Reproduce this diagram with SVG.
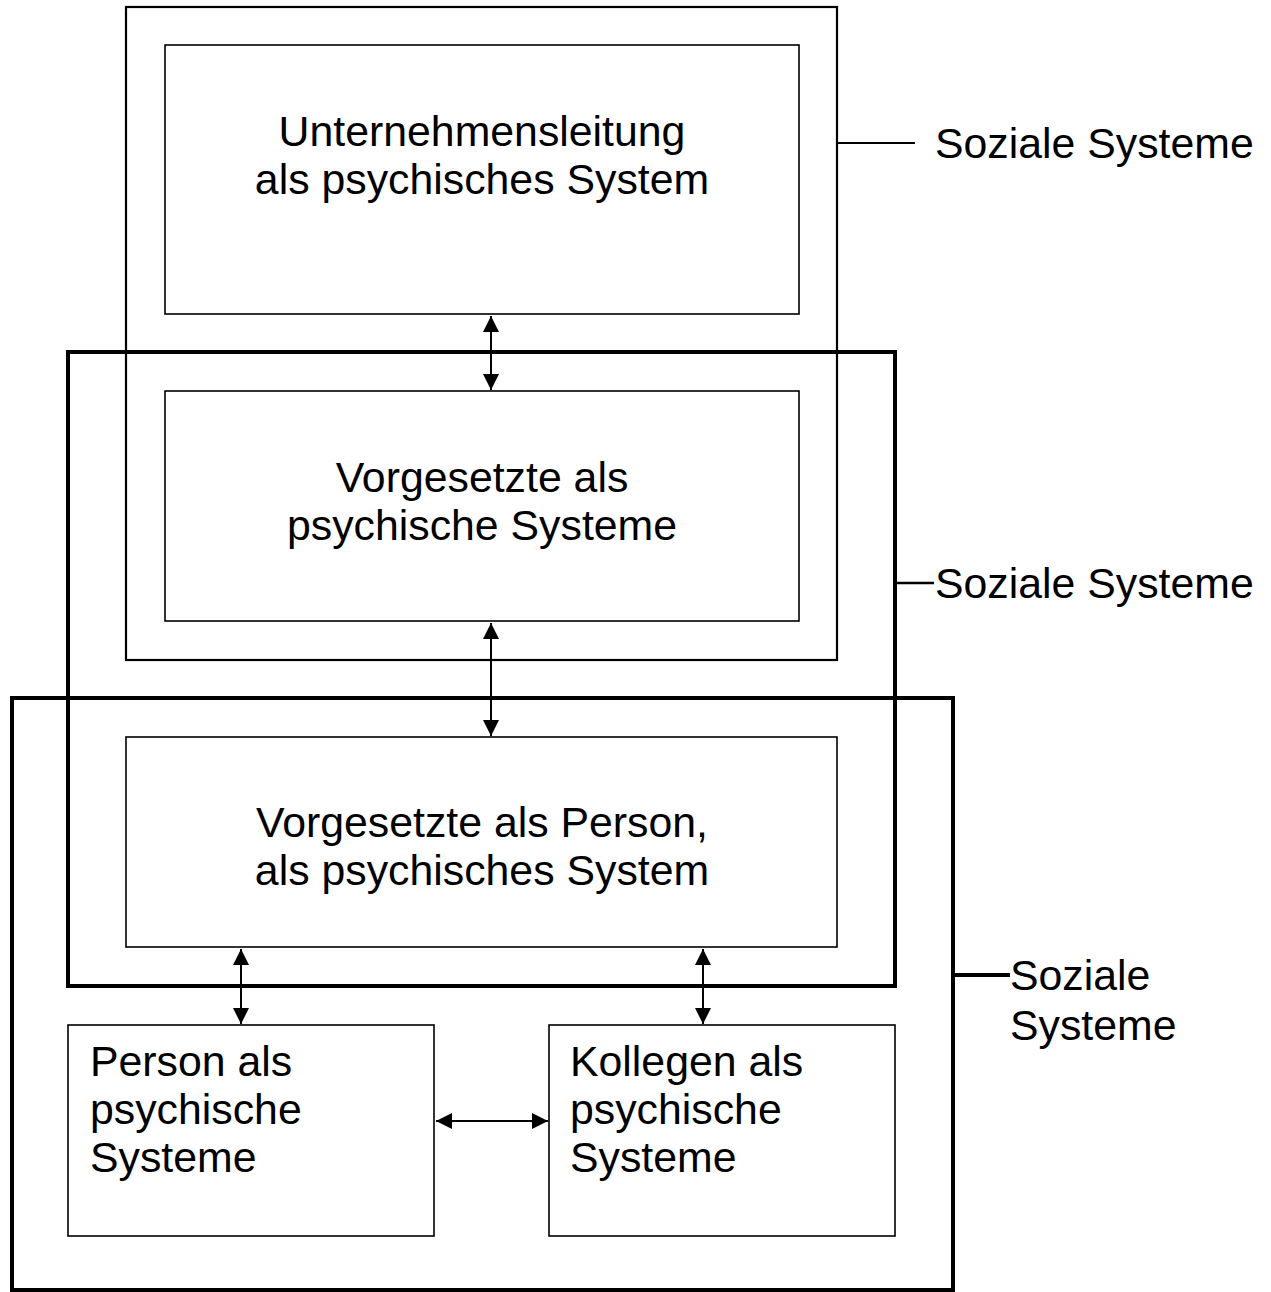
<svg xmlns="http://www.w3.org/2000/svg" width="1271" height="1292" viewBox="0 0 1271 1292">
<style>
text{font-family:"Liberation Sans",Arial,sans-serif;font-size:42.8px;fill:#000}
.c{text-anchor:middle}
rect{fill:none;stroke:#000}
.thin{stroke-width:1.6}
.mid{stroke-width:2.2}
.thick{stroke-width:4}
.conn line{stroke:#000;stroke-width:2}
</style>
<defs>
<marker id="a" viewBox="0 0 16 16" refX="16" refY="8" markerWidth="16" markerHeight="16" markerUnits="userSpaceOnUse" orient="auto-start-reverse">
<path d="M0,0 L16,8 L0,16 z" fill="#000"/>
</marker>
</defs>
<g id="sys1"><rect class="mid" x="126" y="7" width="711" height="653"/></g>
<g id="sys2"><rect class="thick" x="68" y="352" width="827" height="634"/></g>
<g id="sys3"><rect class="thick" x="12" y="698" width="941" height="592"/></g>
<g id="unternehmensleitung"><rect class="thin" x="165" y="45" width="634" height="269"/>
<text class="c" x="482" y="146">Unternehmensleitung</text>
<text class="c" x="482" y="194">als psychisches System</text></g>
<g id="vorgesetzte"><rect class="thin" x="165" y="391" width="634" height="230"/>
<text class="c" x="482" y="492">Vorgesetzte als</text>
<text class="c" x="482" y="540">psychische Systeme</text></g>
<g id="vorgesetzte-person"><rect class="thin" x="126" y="737" width="711" height="210"/>
<text class="c" x="482" y="837">Vorgesetzte als Person,</text>
<text class="c" x="482" y="885">als psychisches System</text></g>
<g id="person"><rect class="thin" x="68" y="1025" width="366" height="211"/>
<text x="90" y="1076">Person als</text>
<text x="90" y="1124">psychische</text>
<text x="90" y="1172">Systeme</text></g>
<g id="kollegen"><rect class="thin" x="549" y="1025" width="346" height="211"/>
<text x="570" y="1076">Kollegen als</text>
<text x="570" y="1124">psychische</text>
<text x="570" y="1172">Systeme</text></g>
<g id="label1"><line x1="838" y1="143" x2="915" y2="143" stroke="#000" stroke-width="2"/><text x="935" y="158">Soziale Systeme</text></g>
<g id="label2"><line x1="896" y1="583" x2="934" y2="583" stroke="#000" stroke-width="2.5"/><text x="935" y="598">Soziale Systeme</text></g>
<g id="label3"><line x1="955" y1="975" x2="1010" y2="975" stroke="#000" stroke-width="4"/><text x="1010" y="990">Soziale</text><text x="1010" y="1040">Systeme</text></g>
<g id="connectors" class="conn">
<line x1="491" y1="316" x2="491" y2="390" marker-start="url(#a)" marker-end="url(#a)"/>
<line x1="491" y1="623" x2="491" y2="736" marker-start="url(#a)" marker-end="url(#a)"/>
<line x1="241" y1="949" x2="241" y2="1024" marker-start="url(#a)" marker-end="url(#a)"/>
<line x1="703" y1="949" x2="703" y2="1024" marker-start="url(#a)" marker-end="url(#a)"/>
<line x1="436" y1="1121" x2="548" y2="1121" marker-start="url(#a)" marker-end="url(#a)"/>
</g>
</svg>
